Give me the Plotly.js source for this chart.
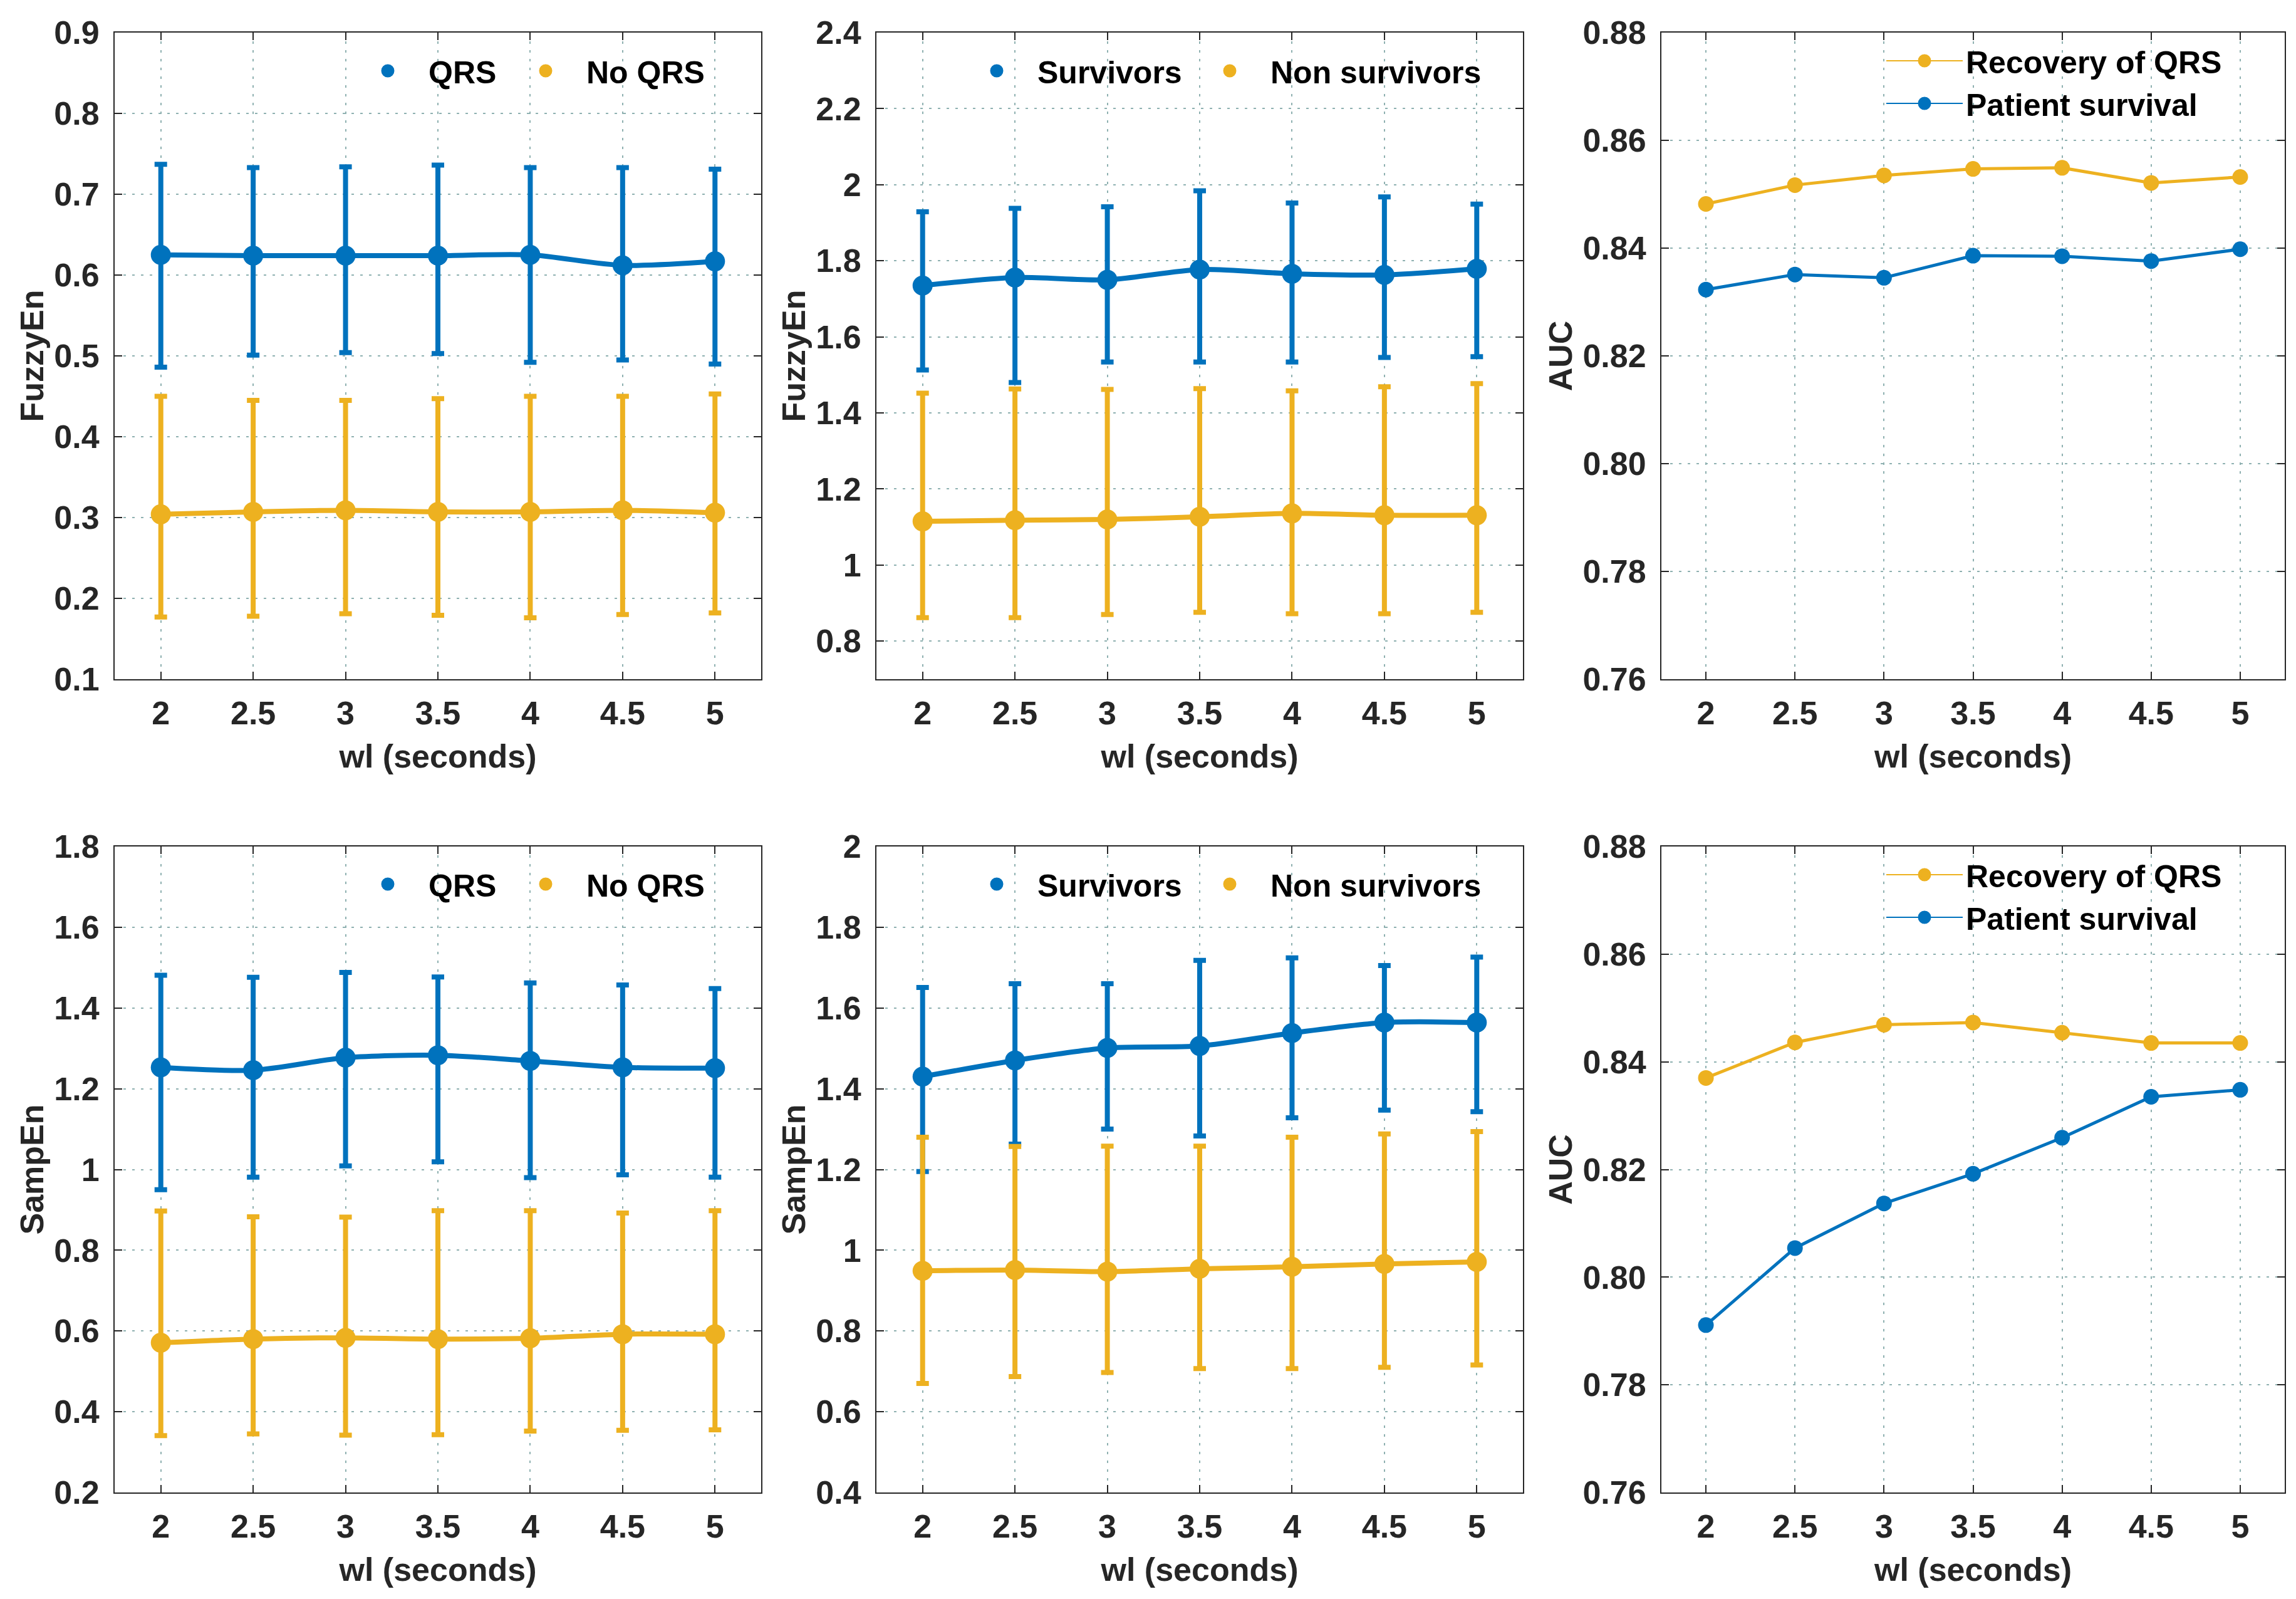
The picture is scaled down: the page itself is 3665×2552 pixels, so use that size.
<!DOCTYPE html>
<html>
<head>
<meta charset="utf-8">
<script src="https://cdn.plot.ly/plotly-3.0.1.min.js"></script>
<style>html,body{margin:0;padding:0;background:#fff;}#chart{width:3665px;height:2552px;}</style>
</head>
<body>
<div id="chart"></div>
<script>
// ---------- data ----------
const wl = [2, 2.5, 3, 3.5, 4, 4.5, 5];
const xTicks = [2, 2.5, 3, 3.5, 4, 4.5, 5];

// Panel 1: FuzzyEn, QRS vs No QRS
const fuzzyQrsMean  = [0.625, 0.624, 0.624, 0.624, 0.625, 0.612, 0.617];
const fuzzyQrsUpper = [0.737, 0.733, 0.734, 0.736, 0.733, 0.733, 0.731];
const fuzzyQrsLower = [0.486, 0.501, 0.504, 0.503, 0.492, 0.495, 0.490];
const fuzzyNoQrsMean  = [0.304, 0.307, 0.309, 0.307, 0.307, 0.309, 0.306];
const fuzzyNoQrsUpper = [0.450, 0.445, 0.445, 0.447, 0.450, 0.450, 0.453];
const fuzzyNoQrsLower = [0.177, 0.178, 0.181, 0.179, 0.176, 0.180, 0.182];

// Panel 2: FuzzyEn, Survivors vs Non survivors
const fuzzySurvMean  = [1.735, 1.756, 1.750, 1.777, 1.766, 1.763, 1.779];
const fuzzySurvUpper = [1.929, 1.938, 1.942, 1.984, 1.952, 1.968, 1.949];
const fuzzySurvLower = [1.513, 1.480, 1.534, 1.534, 1.534, 1.546, 1.548];
const fuzzyNonSurvMean  = [1.115, 1.118, 1.120, 1.127, 1.136, 1.131, 1.131];
const fuzzyNonSurvUpper = [1.452, 1.463, 1.462, 1.464, 1.458, 1.469, 1.477];
const fuzzyNonSurvLower = [0.862, 0.862, 0.870, 0.876, 0.872, 0.872, 0.876];

// Panel 3: AUC (FuzzyEn)
const fuzzyAucRecovery = [0.8482, 0.8517, 0.8535, 0.8547, 0.8549, 0.8521, 0.8532];
const fuzzyAucSurvival = [0.8323, 0.8351, 0.8345, 0.8386, 0.8385, 0.8376, 0.8398];

// Panel 4: SampEn, QRS vs No QRS
const sampQrsMean  = [1.253, 1.246, 1.277, 1.283, 1.269, 1.253, 1.251];
const sampQrsUpper = [1.481, 1.476, 1.488, 1.477, 1.462, 1.457, 1.448];
const sampQrsLower = [0.950, 0.981, 1.009, 1.019, 0.980, 0.987, 0.981];
const sampNoQrsMean  = [0.571, 0.580, 0.583, 0.580, 0.582, 0.592, 0.592];
const sampNoQrsUpper = [0.897, 0.883, 0.882, 0.898, 0.898, 0.892, 0.898];
const sampNoQrsLower = [0.341, 0.345, 0.342, 0.343, 0.352, 0.354, 0.355];

// Panel 5: SampEn, Survivors vs Non survivors
const sampSurvMean  = [1.430, 1.470, 1.501, 1.506, 1.538, 1.564, 1.564];
const sampSurvUpper = [1.651, 1.660, 1.660, 1.718, 1.724, 1.705, 1.726];
const sampSurvLower = [1.195, 1.263, 1.300, 1.283, 1.328, 1.347, 1.343];
const sampNonSurvMean  = [0.949, 0.951, 0.947, 0.954, 0.959, 0.966, 0.971];
const sampNonSurvUpper = [1.280, 1.257, 1.258, 1.258, 1.280, 1.288, 1.294];
const sampNonSurvLower = [0.670, 0.687, 0.697, 0.707, 0.707, 0.710, 0.716];

// Panel 6: AUC (SampEn)
const sampAucRecovery = [0.8370, 0.8436, 0.8469, 0.8473, 0.8454, 0.8435, 0.8435];
const sampAucSurvival = [0.7911, 0.8054, 0.8137, 0.8192, 0.8259, 0.8335, 0.8348];

// tick values
const yTicks1 = [0.1, 0.2, 0.3, 0.4, 0.5, 0.6, 0.7, 0.8, 0.9];
const yTicks2 = [0.8, 1, 1.2, 1.4, 1.6, 1.8, 2, 2.2, 2.4];
const yTicksAuc = [0.76, 0.78, 0.80, 0.82, 0.84, 0.86, 0.88];
const yTicks4 = [0.2, 0.4, 0.6, 0.8, 1, 1.2, 1.4, 1.6, 1.8];
const yTicks5 = [0.4, 0.6, 0.8, 1, 1.2, 1.4, 1.6, 1.8, 2];

// legend labels
const labelsQrs = ['QRS', 'No QRS'];
const labelsSurv = ['Survivors', 'Non survivors'];
const labelsAuc = ['Recovery of QRS', 'Patient survival'];

// ---------- style ----------
const BLUE = '#0072BD';
const ORANGE = '#EDB120';
const FONT = 'Liberation Sans, Arial, Helvetica, sans-serif';
const W = 3665, H = 2552;

function errTrace(x, mean, upper, lower, color, xa, ya) {
  return {
    x: x, y: mean, xaxis: xa, yaxis: ya, type: 'scatter', mode: 'lines+markers',
    showlegend: false, hoverinfo: 'skip',
    line: {color: color, width: 8, shape: 'spline', smoothing: 0.8},
    marker: {color: color, size: 32},
    error_y: {
      type: 'data', symmetric: false,
      array: upper.map((u, i) => u - mean[i]),
      arrayminus: lower.map((l, i) => mean[i] - l),
      color: color, thickness: 8, width: 10
    }
  };
}
function lineTrace(x, y, color, xa, ya) {
  return {
    x: x, y: y, xaxis: xa, yaxis: ya, type: 'scatter', mode: 'lines+markers',
    showlegend: false, hoverinfo: 'skip',
    line: {color: color, width: 5},
    marker: {color: color, size: 25}
  };
}
function dotLegend(name, color, leg) {
  return {x: [null], y: [null], type: 'scatter', mode: 'markers', name: name,
    legend: leg, marker: {color: color, size: 16, line: {color: color, width: 5}}};
}
function lineLegend(name, color, leg) {
  return {x: [null], y: [null], type: 'scatter', mode: 'lines+markers', name: name,
    legend: leg, line: {color: color, width: 2},
    marker: {color: color, size: 16, line: {color: color, width: 5}}};
}

const data = [
  errTrace(wl, fuzzyQrsMean, fuzzyQrsUpper, fuzzyQrsLower, BLUE, 'x', 'y'),
  errTrace(wl, fuzzyNoQrsMean, fuzzyNoQrsUpper, fuzzyNoQrsLower, ORANGE, 'x', 'y'),
  errTrace(wl, fuzzySurvMean, fuzzySurvUpper, fuzzySurvLower, BLUE, 'x2', 'y2'),
  errTrace(wl, fuzzyNonSurvMean, fuzzyNonSurvUpper, fuzzyNonSurvLower, ORANGE, 'x2', 'y2'),
  lineTrace(wl, fuzzyAucRecovery, ORANGE, 'x3', 'y3'),
  lineTrace(wl, fuzzyAucSurvival, BLUE, 'x3', 'y3'),
  errTrace(wl, sampQrsMean, sampQrsUpper, sampQrsLower, BLUE, 'x4', 'y4'),
  errTrace(wl, sampNoQrsMean, sampNoQrsUpper, sampNoQrsLower, ORANGE, 'x4', 'y4'),
  errTrace(wl, sampSurvMean, sampSurvUpper, sampSurvLower, BLUE, 'x5', 'y5'),
  errTrace(wl, sampNonSurvMean, sampNonSurvUpper, sampNonSurvLower, ORANGE, 'x5', 'y5'),
  lineTrace(wl, sampAucRecovery, ORANGE, 'x6', 'y6'),
  lineTrace(wl, sampAucSurvival, BLUE, 'x6', 'y6'),
  // legend entries (one legend box per horizontal entry)
  dotLegend(labelsQrs[0], BLUE, 'legend'),
  dotLegend(labelsQrs[1], ORANGE, 'legend2'),
  dotLegend(labelsSurv[0], BLUE, 'legend3'),
  dotLegend(labelsSurv[1], ORANGE, 'legend4'),
  lineLegend(labelsAuc[0], ORANGE, 'legend5'),
  lineLegend(labelsAuc[1], BLUE, 'legend5'),
  dotLegend(labelsQrs[0], BLUE, 'legend6'),
  dotLegend(labelsQrs[1], ORANGE, 'legend7'),
  dotLegend(labelsSurv[0], BLUE, 'legend8'),
  dotLegend(labelsSurv[1], ORANGE, 'legend9'),
  lineLegend(labelsAuc[0], ORANGE, 'legend10'),
  lineLegend(labelsAuc[1], BLUE, 'legend10')
];

const tickFont = {family: FONT, size: 52, color: '#262626', weight: 700};
const titleFont = {family: FONT, size: 52, color: '#262626', weight: 700};
const legFont = {family: FONT, size: 50, color: '#000000', weight: 700};

function xAxis(domain, anchor) {
  return {
    domain: domain, anchor: anchor, range: [1.75, 5.25],
    tickmode: 'array', tickvals: xTicks,
    showline: true, linecolor: '#262626', linewidth: 2, mirror: 'ticks',
    ticks: 'inside', ticklen: 12, tickwidth: 2, tickcolor: '#262626',
    showgrid: true, gridcolor: '#8fb1b1', gridwidth: 2, griddash: '4px,10px',
    zeroline: false, tickfont: tickFont, ticklabelstandoff: 8,
    title: {text: 'wl (seconds)', font: titleFont, standoff: 22}
  };
}
function yAxis(domain, anchor, range, ticks, title, fmt) {
  const a = {
    domain: domain, anchor: anchor, range: range,
    tickmode: 'array', tickvals: ticks,
    showline: true, linecolor: '#262626', linewidth: 2, mirror: 'ticks',
    ticks: 'inside', ticklen: 12, tickwidth: 2, tickcolor: '#262626',
    showgrid: true, gridcolor: '#8fb1b1', gridwidth: 2, griddash: '4px,10px',
    zeroline: false, tickfont: tickFont, ticklabelstandoff: 12,
    title: {text: title, font: titleFont, standoff: 0}
  };
  if (fmt) a.tickformat = fmt;
  return a;
}

const col1 = [183 / W, 1215 / W];
const col2 = [1399 / W, 2431 / W];
const col3 = [2652 / W, 3647 / W];
const row1 = [1 - 1084 / H, 1 - 52 / H];
const row2 = [1 - 2382 / H, 1 - 1351 / H];

function hLegend(px, py) {
  return {x: px / W, y: 1 - py / H, xref: 'paper', yref: 'paper', xanchor: 'left', yanchor: 'middle',
    orientation: 'h', bgcolor: 'rgba(0,0,0,0)', borderwidth: 0, font: legFont,
    itemwidth: 120, itemclick: false, itemdoubleclick: false};
}
function vLegend(px, py) {
  return {x: px / W, y: 1 - py / H, xref: 'paper', yref: 'paper', xanchor: 'left', yanchor: 'middle',
    orientation: 'v', bgcolor: 'rgba(0,0,0,0)', borderwidth: 0, font: legFont,
    itemwidth: 122, itemclick: false, itemdoubleclick: false};
}

const layout = {
  width: W, height: H,
  margin: {l: 0, r: 0, t: 0, b: 0},
  paper_bgcolor: '#ffffff', plot_bgcolor: '#ffffff',
  font: {family: FONT, color: '#262626'},
  showlegend: true,
  xaxis: xAxis(col1, 'y'),
  yaxis: yAxis(row1, 'x', [0.1, 0.9], yTicks1, 'FuzzyEn'),
  xaxis2: xAxis(col2, 'y2'),
  yaxis2: yAxis(row1, 'x2', [0.7, 2.4], yTicks2, 'FuzzyEn'),
  xaxis3: xAxis(col3, 'y3'),
  yaxis3: yAxis(row1, 'x3', [0.76, 0.88], yTicksAuc, 'AUC', '.2f'),
  xaxis4: xAxis(col1, 'y4'),
  yaxis4: yAxis(row2, 'x4', [0.2, 1.8], yTicks4, 'SampEn'),
  xaxis5: xAxis(col2, 'y5'),
  yaxis5: yAxis(row2, 'x5', [0.4, 2.0], yTicks5, 'SampEn'),
  xaxis6: xAxis(col3, 'y6'),
  yaxis6: yAxis(row2, 'x6', [0.76, 0.88], yTicksAuc, 'AUC', '.2f'),
  legend: hLegend(554, 113),
  legend2: hLegend(806, 113),
  legend3: hLegend(1526, 113),
  legend4: hLegend(1898, 113),
  legend5: vLegend(3006, 131),
  legend6: hLegend(554, 1411),
  legend7: hLegend(806, 1411),
  legend8: hLegend(1526, 1411),
  legend9: hLegend(1898, 1411),
  legend10: vLegend(3006, 1430)
};

Plotly.newPlot('chart', data, layout, {staticPlot: true, displayModeBar: false});
</script>
</body>
</html>
